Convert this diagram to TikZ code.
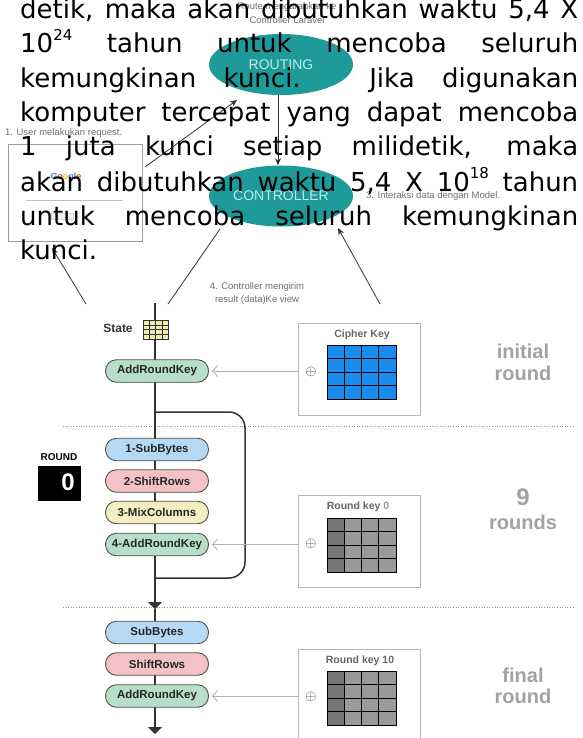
\documentclass[tikz,border=0pt]{standalone}
\usepackage{fontspec}
\setmainfont{Liberation Sans}
\newfontfamily\parafont{DejaVu Sans}
\usetikzlibrary{arrows.meta,shapes.geometric}
\definecolor{tealc}{HTML}{1E9A9A}
\definecolor{routtxt}{HTML}{BDEBEA}
\definecolor{mvcgray}{HTML}{6E6E6E}
\definecolor{boxmauve}{HTML}{A898A4}
\definecolor{linec}{HTML}{333333}
\definecolor{mint}{HTML}{B7DEC8}
\definecolor{sblue}{HTML}{B5D9F4}
\definecolor{spink}{HTML}{F4C2C4}
\definecolor{syell}{HTML}{F3EFC2}
\definecolor{stagedraw}{HTML}{505050}
\definecolor{keyblue}{HTML}{1A8CEE}
\definecolor{keydark}{HTML}{777777}
\definecolor{keymid}{HTML}{9A9A9A}
\definecolor{keyedge}{HTML}{B5B5B5}
\definecolor{sidegray}{HTML}{A2A2A2}
\definecolor{gridyel}{HTML}{F1EBB2}
\definecolor{gblue}{HTML}{4285F4}
\definecolor{gred}{HTML}{EA4335}
\definecolor{gyel}{HTML}{FBBC05}
\definecolor{ggreen}{HTML}{34A853}
\newcommand\supx[1]{\raisebox{0.48em}{\fontsize{15}{15}\selectfont #1}}
\newcommand\kgrid[4]{%
  \fill[#4] (#1,#2) rectangle ({#1+69},{#2+54});
  \fill[#3] (#1,#2) rectangle ({#1+17.25},{#2+54});
  \foreach \i in {1,2,3}{%
    \draw[black,line width=0.7pt] ({#1+\i*17.25},#2) -- ({#1+\i*17.25},{#2+54});
    \draw[black,line width=0.7pt] (#1,{#2+\i*13.5}) -- ({#1+69},{#2+\i*13.5});
  }
  \draw[black,line width=0.9pt] (#1,#2) rectangle ({#1+69},{#2+54});
}
\tikzset{
 lbl/.style={font=\fontsize{9.5}{12.5}\selectfont, text=mvcgray, inner sep=0},
 mvcell/.style={ellipse, fill=tealc, minimum width=144pt, minimum height=61pt, inner sep=0, text=routtxt, font=\fontsize{14}{14}\selectfont},
 mvcline/.style={draw=linec, line width=0.8pt},
 mvcarrow/.style={mvcline, -{Stealth[length=7pt,width=6pt]}},
 para/.style={font=\parafont\fontsize{26}{34}\selectfont, inner sep=0, anchor=base west},
 stage/.style={rectangle, rounded corners=11pt, minimum width=103pt, minimum height=22.5pt, draw=stagedraw, line width=0.9pt, inner sep=0, font=\bfseries\fontsize{11.5}{12}\selectfont, text=black!85},
 mainline/.style={draw=linec, line width=1.5pt},
 mainarrow/.style={mainline, -{Triangle[width=14pt,length=7pt]}},
 keybox/.style={draw=keyedge, line width=1pt, fill=white, minimum width=122pt, minimum height=92pt, inner sep=0},
 keyttl/.style={font=\bfseries\fontsize{10.5}{11}\selectfont, text=black!60, inner sep=0},
 xorsym/.style={font=\fontsize{15}{15}\selectfont, text=black!75, inner sep=0},
 keyarrow/.style={draw=black!30, line width=0.9pt, -{Straight Barb[length=5pt,width=11pt]}, shorten >=3pt},
 sidelbl/.style={font=\bfseries\fontsize{20}{21.5}\selectfont, text=sidegray, align=center, inner sep=0},
 sepline/.style={draw=black!40, line width=0.8pt, dash pattern=on 0.8pt off 1.8pt},
}
\begin{document}
\begin{tikzpicture}[x=1pt,y=-1pt]
\useasboundingbox (0,0) rectangle (582,738);
\fill[white] (0,0) rectangle (582,738);

% ---------- MVC diagram (background) ----------
\node[lbl] (t1) at (287,7) {Route mengarahkan ke};
\node[lbl] (t2) at (287,20) {Controller Laravel};
\node[mvcell] (routing) at (281,64.5) {ROUTING};
\node[mvcell] (controller) at (281,196) {CONTROLLER};
\coordinate (rcx) at (278,0);
\draw[mvcarrow] (routing.south -| rcx) -- (controller.north -| rcx);

\node[lbl, anchor=west] (m1) at (5,133) {1. User melakukan request.};
\node[draw=boxmauve, line width=0.8pt, minimum width=134pt, minimum height=97pt, inner sep=0] (browser) at (75,192.5) {};
\node[inner sep=0, font=\bfseries\fontsize{9}{9}\selectfont] (google) at (66,177) {\textcolor{gblue}{G}\textcolor{gred}{o}\textcolor{gyel}{o}\textcolor{gblue}{g}\textcolor{ggreen}{l}\textcolor{gred}{e}};
\coordinate (sbl) at (26,200); \coordinate (sbr) at (123,200);
\draw[black!25, line width=0.6pt] (sbl) -- (sbr);
\node[draw=black!15, fill=black!6, minimum width=22pt, minimum height=6pt, inner sep=0] (gbtn) at (62,216) {};

\node[lbl, anchor=west] (m3) at (366,196) {3. Interaksi data dengan Model.};
\node[lbl, align=center] (m4) at (257,293.5) {4. Controller mengirim\\result (data)Ke view};

\coordinate (ua) at (145,167); \coordinate (ub) at (237,100);
\draw[mvcarrow] (ua) -- (ub);
\coordinate (cl) at (220,229); \coordinate (vl) at (168,304);
\draw[mvcline] (cl) -- (vl);
\coordinate (ml) at (380,304); \coordinate (cr) at (338,228);
\draw[mvcarrow] (ml) -- (cr);
\coordinate (vb) at (86,304); \coordinate (bb) at (52,248);
\draw[mvcarrow] (vb) -- (bb);

% ---------- paragraph ----------
\node[para] (p1) at (20,19) {\makebox[558pt][s]{detik, maka akan dibutuhkan waktu 5,4 X}};
\node[para] (p2) at (20,53) {\makebox[558pt][s]{10\supx{24} tahun untuk mencoba seluruh}};
\node[para] (p3) at (20,88) {\makebox[558pt][s]{kemungkinan kunci. Jika digunakan}};
\node[para] (p4) at (20,122) {\makebox[558pt][s]{komputer tercepat yang dapat mencoba}};
\node[para] (p5) at (20,156) {\makebox[558pt][s]{1 juta kunci setiap milidetik, maka}};
\node[para] (p6) at (20,191) {\makebox[558pt][s]{akan dibutuhkan waktu 5,4 X 10\supx{18} tahun}};
\node[para] (p7) at (20,225) {\makebox[558pt][s]{untuk mencoba seluruh kemungkinan}};
\node[para] (p8) at (20,259) {kunci.};

% ---------- AES diagram ----------
\coordinate (sepa1) at (63,426); \coordinate (sepb1) at (573,426);
\coordinate (sepa2) at (63,607); \coordinate (sepb2) at (573,607);
\draw[sepline] (sepa1) -- (sepb1);
\draw[sepline] (sepa2) -- (sepb2);

\coordinate (mtop) at (155,303); \coordinate (mmid) at (155,609); \coordinate (mbot) at (155,734);
\draw[mainarrow] (mtop) -- (mmid);
\draw[mainarrow] (mmid) -- (mbot);
\coordinate (la) at (155,412); \coordinate (lb) at (245,412);
\coordinate (lc) at (245,578); \coordinate (ld) at (155,578);
\draw[mainline, rounded corners=16pt] (la) -- (lb) -- (lc) -- (ld);

\node[font=\bfseries\fontsize{12}{12}\selectfont, text=black!80, inner sep=0] (statelbl) at (118,328) {State};
\fill[gridyel] (143,320) rectangle (168,339);
\foreach \i in {1,2,3}{%
  \draw[black!80, line width=0.5pt] ({143+\i*6.25},320) -- ({143+\i*6.25},339);
  \draw[black!80, line width=0.5pt] (143,{320+\i*4.75}) -- (168,{320+\i*4.75});
}
\draw[black!80, line width=0.7pt] (143,320) rectangle (168,339);

\node[stage, fill=mint] (ark1) at (157,371) {AddRoundKey};
\node[stage, fill=sblue] (sb1) at (157,449.5) {1-SubBytes};
\node[stage, fill=spink] (sr1) at (157,481) {2-ShiftRows};
\node[stage, fill=syell] (mc1) at (157,512.5) {3-MixColumns};
\node[stage, fill=mint] (ark2) at (157,544.5) {4-AddRoundKey};
\node[stage, fill=sblue] (sb2) at (157,632.5) {SubBytes};
\node[stage, fill=spink] (sr2) at (157,664) {ShiftRows};
\node[stage, fill=mint] (ark3) at (157,696) {AddRoundKey};

\node[font=\bfseries\fontsize{10}{10}\selectfont, inner sep=0] (roundlbl) at (59,457) {ROUND};
\node[fill=black, minimum width=43pt, minimum height=35pt, inner sep=0] (roundbox) at (59.5,483.5) {};
\node[text=white, font=\bfseries\fontsize{24}{24}\selectfont, inner sep=0] (roundnum) at (68,482) {0};

\node[keybox] (ckbox) at (359,369) {};
\node[keyttl] (cktitle) at (362,335) {Cipher Key};
\kgrid{327}{345}{keyblue}{keyblue}
\node[xorsym] (x1) at (311,372) {$\oplus$};
\draw[keyarrow] (ckbox.west |- ark1.east) -- (ark1.east);

\node[keybox] (rk0box) at (359,541.5) {};
\node[keyttl] (rk0title) at (358,507) {Round key \textcolor{black!40}{0}};
\kgrid{327}{518}{keydark}{keymid}
\node[xorsym] (x2) at (311,544) {$\oplus$};
\draw[keyarrow] (rk0box.west |- ark2.east) -- (ark2.east);

\node[keybox] (rk10box) at (359,695) {};
\node[keyttl] (rk10title) at (360,661) {Round key 10};
\kgrid{327}{671}{keydark}{keymid}
\node[xorsym] (x3) at (311,697) {$\oplus$};
\draw[keyarrow] (rk10box.west |- ark3.east) -- (ark3.east);

\node[sidelbl] (initlbl) at (523,362.5) {initial\\round};
\node[sidelbl, font=\bfseries\fontsize{20}{24}\selectfont] (ninelbl) at (523,509) {{\fontsize{24}{24}\selectfont 9}\\rounds};
\node[sidelbl] (finallbl) at (523,686) {final\\round};
\end{tikzpicture}
\end{document}
